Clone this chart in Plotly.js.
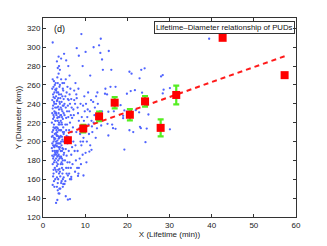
<!DOCTYPE html>
<html><head><meta charset="utf-8">
<script src="https://cdn.plot.ly/plotly-3.0.1.min.js"></script>
<style>html,body{margin:0;padding:0;background:#fff}#c{width:327px;height:246px}</style>
</head><body><div id="c"></div>
<script>
// Scatter of individual PUDs (lifetime min, diameter km)
const scatterX = [
2.1,2.2,2.3,2.2,2.4,2.1,2.5,2.3,2.6,2.4,2.2,2.5,2.7,2.8,2.3,2.5,2.4,2.6,2.7,2.8,2.9,2.6,2.7,2.8,2.5,2.9,2.6,2.7,2.4,2.9,2.2,2.8,2.6,2.3,2.9,2.1,2.4,2.6,2.8,2.5,2.9,2.3,2.7,2.5,2.9,2.2,2.6,2.8,2.4,2.9,2.3,2.7,2.5,2.8,2.6,2.4,2.9,2.2,2.7,2.5,
3.1,3.2,3.3,3.4,3.1,3.5,3.2,3.6,3.3,3.7,3.4,3.0,3.5,3.2,3.8,3.1,3.6,3.3,3.9,3.0,3.4,3.7,3.2,3.8,3.5,3.9,3.1,3.6,3.3,3.8,3.0,3.5,3.9,3.2,3.7,3.4,3.0,3.6,3.3,3.9,3.1,3.8,3.5,3.0,3.4,3.7,3.2,3.6,3.9,3.3,3.8,3.1,3.5,3.7,3.3,3.9,3.0,3.4,3.6,3.2,3.8,3.5,3.1,3.7,3.4,3.0,3.6,3.9,3.3,3.8,3.5,3.2,3.6,3.9,3.1,3.4,3.7,3.3,
4.0,4.1,4.2,4.3,4.4,4.5,4.6,4.7,4.8,4.1,4.3,4.5,4.7,4.9,4.2,4.4,4.6,4.8,4.0,4.3,4.6,4.9,4.1,4.4,4.7,4.0,4.3,4.6,4.9,4.2,4.5,4.8,4.1,4.4,4.7,4.0,4.5,4.8,4.2,4.6,4.9,4.0,4.3,4.7,4.1,4.4,4.8,4.2,4.6,4.9,4.3,4.5,4.0,4.7,4.1,4.9,4.4,4.6,4.2,4.8,4.3,4.5,4.0,4.7,
5.0,5.2,5.4,5.6,5.8,6.0,6.2,6.4,5.1,5.3,5.5,5.7,5.9,6.1,6.3,6.5,6.7,5.0,5.4,6.8,6.6,6.4,6.2,6.0,5.8,5.6,5.2,5.5,5.9,6.3,6.7,6.9,5.1,5.3,5.6,6.0,6.5,6.8,5.7,6.2,5.0,5.4,6.6,5.9,6.1,5.3,6.4,5.8,6.9,5.5,6.3,5.1,6.7,5.6,
7.1,7.3,7.6,7.9,8.2,8.5,8.8,9.1,9.4,7.2,7.5,7.8,8.1,8.4,7.4,7.7,8.0,8.3,8.6,8.9,9.2,9.5,9.8,7.0,7.6,8.7,9.0,9.6,9.9,7.2,7.9,8.4,9.3,7.7,8.2,9.7,7.4,8.9,9.5,10.0,
10.2,10.5,10.8,11.1,11.4,11.7,12.0,12.3,12.6,10.4,10.9,11.5,12.2,12.8,13.0,13.5,10.7,11.2,12.5,13.8,10.1,11.9,12.9,10.6,11.6,
2.3,3.3,3.8,3.5,4.0,3.7,4.3,5.0,5.5,6.0,6.3,8.0,8.5,9.1,9.4,10.1,11.2,12.0,13.3,13.6,13.7,14.0,14.2,15.6,16.2,16.0,17.2,20.5,21.0,23.3,22.9,28.0,39.4,
24.1,28.4,14.8,14.7,15.2,20.8,21.8,19.9,23.5,28.6,28.4,30.1,18.4,14.0,15.5,16.8,19.3,19.9,22.0,22.8,19.0,19.0,25.0,13.8,15.3,16.4,16.6,17.2,15.5,20.5,21.4,23.0,23.2,24.6,30.1,24.3,19.3,
11.0,11.5,10.3,9.6,8.3,6.7,8.5,5.9,5.4,6.4,3.1,3.9,3.5
];
const scatterY = [
205,198,190,185,212,220,228,235,242,250,256,258,252,246,176,170,163,158,152,180,188,195,202,208,215,222,226,232,238,236,244,260,264,266,255,193,182,178,172,166,160,154,186,200,196,210,218,214,224,230,206,194,184,190,204,196,203,230,240,247,
200,207,195,188,182,176,168,160,152,145,138,215,222,228,234,240,246,252,258,262,268,272,212,205,198,192,186,180,174,166,170,156,150,190,218,225,231,237,243,226,248,212,206,196,201,194,178,185,171,162,198,209,214,230,236,242,222,244,252,256,250,262,254,203,184,188,170,182,215,220,190,198,226,204,230,210,186,206,
205,198,190,184,178,172,166,160,155,150,212,218,224,230,236,242,248,254,260,266,262,245,228,220,210,194,200,193,186,176,182,170,163,158,152,168,205,215,222,232,238,240,250,256,212,196,200,183,176,162,156,226,218,238,246,208,234,202,206,192,228,190,184,180,
210,200,192,185,178,172,166,160,155,218,225,232,238,244,250,256,245,262,266,236,228,220,212,205,198,206,180,172,164,178,186,194,240,248,252,226,200,210,218,232,188,236,172,245,190,158,240,258,225,212,204,228,160,166,
215,228,240,250,236,222,208,196,186,200,190,180,172,166,254,262,246,230,214,200,226,238,248,176,168,182,176,204,232,234,210,256,216,196,190,222,244,240,200,212,
240,226,218,232,244,210,220,236,248,200,208,222,228,214,240,232,252,196,204,222,188,242,252,234,216,
305,285,280,278,276,290,288,293,286,280,270,299,291,314,280,295,270,300,302,294,309,287,276,296,276,258,258,274,272,276,267,269,309,
277.6,270.5,256,250.7,250,253.5,254.5,250.7,251.8,255,251,256.7,238.6,231.9,231.6,232,233,231.6,233.3,231,227.3,224.8,228.7,217,218.8,218,214.2,213.5,206.4,212,210,215.6,214.2,213.8,213,199.3,191.5,
189.4,191.2,178,164,163.6,162.5,172,138.4,142,139,134.9,144.8,148.3
];
// Binned means with standard errors
const meanX = [5.9, 9.55, 13.3, 17.0, 20.6, 24.2, 27.9, 31.6, 42.6, 57.3];
const meanY = [201.4, 213.8, 226.7, 241.2, 228.4, 242.6, 214.5, 249.4, 310, 270.4];
const meanErr = [2, 4, 5, 6, 6, 5.5, 9, 10, 0, 0];
// Linear fit endpoints
const fitX = [5.9, 57.3];
const fitY = [209, 290.5];

const font = {family: 'Liberation Sans, Arial, sans-serif', size: 8, color: '#222'};
const data = [
  {x: scatterX, y: scatterY, type: 'scatter', mode: 'markers',
   marker: {color: 'rgb(80,100,255)', size: 2.3}, hoverinfo: 'none'},
  {x: fitX, y: fitY, type: 'scatter', mode: 'lines',
   line: {color: '#ff1a1a', width: 2, dash: '5px,4px'}},
  {x: meanX, y: meanY, type: 'scatter', mode: 'markers',
   marker: {color: '#ff0000', size: 8, symbol: 'square'},
   error_y: {type: 'data', array: meanErr, visible: true, color: '#55ee22', thickness: 2.2, width: 3}}
];
const axisCommon = {showgrid: false, zeroline: false, showline: true, linecolor: '#333', linewidth: 1,
  mirror: 'ticks', ticks: 'inside', ticklen: 3, tickcolor: '#333', tickfont: font};
const layout = {
  width: 327, height: 246, showlegend: false,
  margin: {l: 43, r: 31, t: 18, b: 29},
  paper_bgcolor: '#fff', plot_bgcolor: '#fff', font: font,
  xaxis: Object.assign({}, axisCommon, {range: [0, 60], dtick: 10,
    title: {text: 'X (Lifetime (min))', font: font, standoff: 2}}),
  yaxis: Object.assign({}, axisCommon, {range: [120, 331], tick0: 120, dtick: 20,
    title: {text: 'Y (Diameter (km))', font: font, standoff: 4}}),
  annotations: [
    {x: 2.2, y: 319, xref: 'x', yref: 'y', text: '(d)', showarrow: false, xanchor: 'left',
     font: {family: font.family, size: 9, color: '#111'}},
    {x: 0.995, y: 0.985, xref: 'paper', yref: 'paper', xanchor: 'right', yanchor: 'top',
     text: 'Lifetime\u2013Diameter relationship of PUDs', showarrow: false,
     font: {family: font.family, size: 7.8, color: '#111'},
     bordercolor: '#333', borderwidth: 1, borderpad: 1, bgcolor: 'rgba(255,255,255,0)'}
  ]
};
Plotly.newPlot('c', data, layout, {staticPlot: true, displayModeBar: false});
</script></body></html>
